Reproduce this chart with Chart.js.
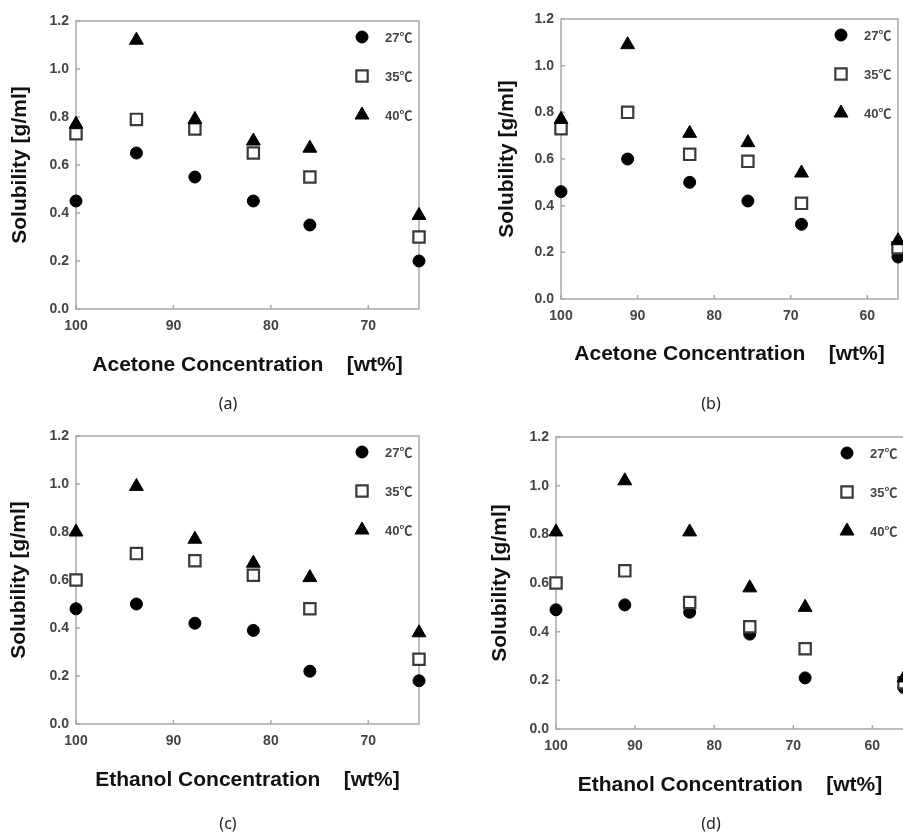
<!DOCTYPE html>
<html>
<head>
<meta charset="utf-8">
<script src="https://cdn.jsdelivr.net/npm/chart.js@4.4.1/dist/chart.umd.min.js"></script>
<style>
  html, body { margin: 0; padding: 0; background: #fff; overflow: hidden; }
  #wrap { position: relative; width: 903px; height: 835px; overflow: hidden; }
  canvas { position: absolute; }
</style>
</head>
<body>
<div id="wrap">
  <canvas id="chartA" width="451" height="420" style="left:0;top:0"></canvas>
  <canvas id="chartB" width="451" height="420" style="left:452px;top:0"></canvas>
  <canvas id="chartC" width="451" height="415" style="left:0;top:420px"></canvas>
  <canvas id="chartD" width="460" height="415" style="left:452px;top:420px"></canvas>
</div>
<script>
// Series labels
const seriesLabels = ['27℃', '35℃', '40℃'];

// (a) acetone
const xA = [100, 93.8, 87.8, 81.8, 76.0, 64.8];
const a27 = [0.45, 0.65, 0.55, 0.45, 0.35, 0.20];
const a35 = [0.73, 0.79, 0.75, 0.65, 0.55, 0.30];
const a40 = [0.77, 1.12, 0.79, 0.70, 0.67, 0.39];

// (b) acetone
const xB = [100, 91.3, 83.2, 75.6, 68.6, 56];
const b27 = [0.46, 0.60, 0.50, 0.42, 0.32, 0.18];
const b35 = [0.73, 0.80, 0.62, 0.59, 0.41, 0.22];
const b40 = [0.77, 1.09, 0.71, 0.67, 0.54, 0.25];

// (c) ethanol
const xC = [100, 93.8, 87.8, 81.8, 76.0, 64.8];
const c27 = [0.48, 0.50, 0.42, 0.39, 0.22, 0.18];
const c35 = [0.60, 0.71, 0.68, 0.62, 0.48, 0.27];
const c40 = [0.80, 0.99, 0.77, 0.67, 0.61, 0.38];

// (d) ethanol
const xD = [100, 91.3, 83.1, 75.5, 68.5, 56];
const d27 = [0.49, 0.51, 0.48, 0.39, 0.21, 0.17];
const d35 = [0.60, 0.65, 0.52, 0.42, 0.33, 0.19];
const d40 = [0.81, 1.02, 0.81, 0.58, 0.50, 0.21];

// axis ticks
const yTicks = [0, 0.2, 0.4, 0.6, 0.8, 1.0, 1.2];
const xTickStep = 10;

const TITLE_FONT = { family: 'Arial, "Liberation Sans", sans-serif', size: 21, weight: 'bold' };
const TICK_FONT = { family: 'Arial, "Liberation Sans", sans-serif', size: 14, weight: 'bold' };

// frame, inner ticks, legend and caption
const framePlugin = {
    id: 'frame',
    beforeDatasetsDraw(chart) {
        const { ctx, chartArea: a, scales: { x, y } } = chart;
        ctx.save();
        ctx.strokeStyle = '#a9a9a9';
        ctx.lineWidth = 1.5;
        ctx.strokeRect(a.left, a.top, a.right - a.left, a.bottom - a.top);
        ctx.beginPath();
        x.ticks.forEach(t => {
            const px = x.getPixelForValue(t.value);
            ctx.moveTo(px, a.bottom);
            ctx.lineTo(px, a.bottom - 4);
        });
        y.ticks.forEach(t => {
            const py = y.getPixelForValue(t.value);
            ctx.moveTo(a.left, py);
            ctx.lineTo(a.left + 4, py);
        });
        ctx.stroke();
        ctx.restore();
    },
    afterDraw(chart, args, opts) {
        const { ctx, chartArea: a } = chart;
        ctx.save();
        // legend inside the plot, top right
        chart.data.datasets.forEach((ds, i) => {
            const mx = a.right - 57;
            const my = a.top + 16 + i * 39;
            ctx.fillStyle = ds.backgroundColor;
            ctx.strokeStyle = ds.borderColor;
            ctx.lineWidth = ds.borderWidth;
            Chart.helpers.drawPoint(ctx, {
                pointStyle: ds.pointStyle,
                radius: ds.pointRadius,
                borderWidth: ds.borderWidth,
                rotation: 0
            }, mx, my);
            ctx.fillStyle = '#444';
            ctx.font = 'bold 13px Arial, "Noto Sans CJK KR", "DejaVu Sans", sans-serif';
            ctx.textAlign = 'left';
            ctx.textBaseline = 'middle';
            ctx.fillText(ds.label, mx + 23, my + 1);
        });
        // panel caption
        ctx.fillStyle = '#222';
        ctx.font = '16px "Noto Sans", "Open Sans", sans-serif';
        ctx.textAlign = 'center';
        ctx.textBaseline = 'middle';
        ctx.fillText(opts.caption, opts.capX, opts.capY);
        ctx.restore();
    }
};

function makeDatasets(xs, s27, s35, s40) {
    const pts = arr => xs.map((x, i) => ({ x: x, y: arr[i] }));
    return [
        { label: seriesLabels[0], data: pts(s27), pointStyle: 'circle', pointRadius: 6,
          backgroundColor: '#000', borderColor: '#000', borderWidth: 1, order: 3, clip: false },
        { label: seriesLabels[1], data: pts(s35), pointStyle: 'rect', pointRadius: 8,
          backgroundColor: '#fff', borderColor: '#3a3a3a', borderWidth: 2.2, order: 2, clip: false },
        { label: seriesLabels[2], data: pts(s40), pointStyle: 'triangle', pointRadius: 8,
          backgroundColor: '#000', borderColor: '#000', borderWidth: 1, order: 1, clip: false }
    ];
}

// box: chart area in canvas coords, plus title / caption spots
function makePanel(id, xs, s27, s35, s40, xMin, xTitle, caption, box) {
    const canvas = document.getElementById(id);
    const W = canvas.width, H = canvas.height;
    const half = TITLE_FONT.size * 1.2 / 2;
    return new Chart(canvas, {
        type: 'scatter',
        data: { datasets: makeDatasets(xs, s27, s35, s40) },
        options: {
            responsive: false,
            animation: false,
            devicePixelRatio: 1,
            layout: {
                autoPadding: false,
                padding: { left: 0, top: box.top, right: W - box.right, bottom: 0 }
            },
            plugins: {
                legend: { display: false },
                tooltip: { enabled: false },
                frame: { caption: caption, capX: box.capX, capY: box.capY }
            },
            scales: {
                x: {
                    type: 'linear',
                    reverse: true,
                    min: xMin,
                    max: 100,
                    afterBuildTicks: s => { s.ticks = s.ticks.filter(t => t.value % xTickStep === 0); },
                    afterFit: s => { s.height = H - box.bottom; },
                    grid: { display: false, drawTicks: false },
                    border: { display: false },
                    ticks: { stepSize: xTickStep, font: TICK_FONT, color: '#444', padding: 9 },
                    title: {
                        display: true, text: xTitle, font: TITLE_FONT, color: '#111',
                        padding: { top: 0, bottom: H - box.xTitleY - half }
                    }
                },
                y: {
                    type: 'linear',
                    min: 0,
                    max: 1.2,
                    afterBuildTicks: s => { s.ticks = yTicks.map(v => ({ value: v })); },
                    afterFit: s => { s.width = box.left; },
                    grid: { display: false, drawTicks: false },
                    border: { display: false },
                    ticks: { font: TICK_FONT, color: '#444', padding: 7, callback: v => v.toFixed(1) },
                    title: {
                        display: true, text: 'Solubility [g/ml]', font: TITLE_FONT, color: '#111',
                        padding: { top: box.yTitleX - half, bottom: 0 }
                    }
                }
            }
        },
        plugins: [framePlugin]
    });
}

makePanel('chartA', xA, a27, a35, a40, 64.8, 'Acetone Concentration    [wt%]', '(a)',
    { left: 76, top: 21, right: 419, bottom: 309, xTitleY: 365, yTitleX: 20, capX: 228, capY: 404 });
makePanel('chartB', xB, b27, b35, b40, 56, 'Acetone Concentration    [wt%]', '(b)',
    { left: 109, top: 19, right: 446, bottom: 299, xTitleY: 354, yTitleX: 55, capX: 259, capY: 404 });
makePanel('chartC', xC, c27, c35, c40, 64.8, 'Ethanol Concentration    [wt%]', '(c)',
    { left: 76, top: 16, right: 419, bottom: 304, xTitleY: 360, yTitleX: 19, capX: 228, capY: 404 });
makePanel('chartD', xD, d27, d35, d40, 56, 'Ethanol Concentration    [wt%]', '(d)',
    { left: 104, top: 17, right: 452, bottom: 309, xTitleY: 365, yTitleX: 48, capX: 259, capY: 404 });
</script>
</body>
</html>
